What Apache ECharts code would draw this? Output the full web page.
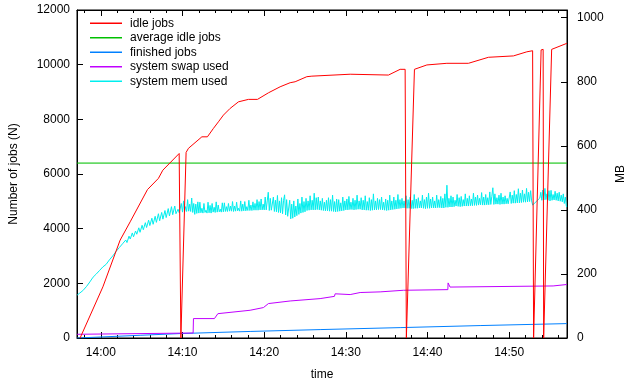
<!DOCTYPE html>
<html><head><meta charset="utf-8">
<script src="https://cdn.jsdelivr.net/npm/echarts@6/dist/echarts.min.js"></script>
<style>html,body{margin:0;padding:0;background:#fff}#c{width:626px;height:383px}</style>
</head><body><div id="c"></div>
<script>
// x values: minutes relative to 14:00
const X_MIN = -2.92, X_MAX = 57.08;
const xMajor = [0, 10, 20, 30, 40, 50];
const xTickLabels = ['14:00', '14:10', '14:20', '14:30', '14:40', '14:50'];
const xMinor = [-2, 2, 4, 6, 8, 12, 14, 16, 18, 22, 24, 26, 28, 32, 34, 36, 38, 42, 44, 46, 48, 52, 54, 56];
const yLeftTicks = [0, 2000, 4000, 6000, 8000, 10000, 12000];
const yRightTicks = [0, 200, 400, 600, 800, 1000];

const idleT = [-2.54, 0.25, 2.36, 3.59, 5.71, 7.05, 7.59, 9.59, 9.8, 10.44, 10.73, 12.37, 13.05, 13.79, 14.40, 15.01, 15.83, 16.85, 18.07, 19.18, 20.52, 21.95, 23.18, 23.79, 25.22, 25.84, 30.53, 35.22, 36.65, 37.26, 37.41, 38.40, 39.92, 42.37, 45.01, 47.46, 50.52, 52.16, 52.87, 52.99, 53.91, 54.16, 54.22, 55.20, 57.06];
const idleV = [0, 1870, 3580, 4250, 5430, 5840, 6140, 6750, 0, 6790, 6940, 7360, 7360, 7670, 7910, 8155, 8400, 8640, 8730, 8730, 8970, 9190, 9340, 9375, 9560, 9580, 9650, 9620, 9830, 9830, 0, 9830, 9990, 10050, 10050, 10270, 10320, 10470, 10510, 0, 10540, 10560, 0, 10560, 10780];

const avgT = [X_MIN, X_MAX];
const avgV = [6400, 6400];

const finT = [-2.9, -0.09, 4.81, 9.71, 18.28, 26.85, 36.65, 46.44, 57.06];
const finV = [0, 36, 99, 162, 240, 308, 380, 455, 527];

const swapT = [-2.9, 11.30, 11.34, 13.91, 14.33, 18.28, 19.91, 20.52, 23.18, 23.26, 26.85, 28.60, 28.69, 28.80, 30.53, 31.75, 34.2, 34.28, 37.05, 42.49, 42.52, 42.76, 55.38, 55.44, 57.06];
const swapV = [11.6, 15.6, 60.6, 60.6, 76, 86.6, 95, 107.5, 115.6, 121, 123, 130, 138, 132, 135.6, 142, 144, 147, 149, 151, 172, 159, 162.5, 167, 167];

// system mem used, start (rising part)
const memAT = [-2.9, -2.6, -2.45, -2.2, -2.0, -1.75, -1.6, -1.35, -1.2, -0.95, -0.8, -0.55, -0.4, -0.15, 0.0, 0.25, 0.4, 0.65, 0.8, 1.05, 1.2, 1.45, 1.6, 1.85, 2.0, 2.25, 2.4, 2.65, 2.8, 3.05, 3.2, 3.45, 3.6, 3.85, 4.0, 4.25, 4.4, 4.65, 4.8, 5.05, 5.2, 5.45, 5.6, 5.85, 6.0, 6.25, 6.4, 6.65, 6.8, 7.05, 7.2, 7.45, 7.6, 7.85, 8.0, 8.25, 8.4, 8.65, 8.8, 9.05, 9.2, 9.45, 9.6, 9.85];
const memAV = [134, 140, 139, 148, 150, 161, 163, 175, 178, 190, 188, 200, 199, 211, 208, 222, 218, 230, 228, 244, 240, 256, 252, 270, 264, 282, 276, 294, 288, 306, 298, 318, 309, 328, 316, 334, 324, 344, 330, 352, 338, 360, 345, 368, 351, 374, 355, 380, 361, 388, 366, 392, 371, 398, 376, 404, 381, 410, 385, 412, 388, 402, 391, 420];

// system mem used, noisy plateau
const memBT = [
  10, 10.125, 10.25, 10.375, 10.5, 10.625, 10.75, 10.875,
  11, 11.125, 11.25, 11.375, 11.5, 11.625, 11.75, 11.875,
  12, 12.125, 12.25, 12.375, 12.5, 12.625, 12.75, 12.875,
  13, 13.125, 13.25, 13.375, 13.5, 13.625, 13.75, 13.875,
  14, 14.125, 14.25, 14.375, 14.5, 14.625, 14.75, 14.875,
  15, 15.125, 15.25, 15.375, 15.5, 15.625, 15.75, 15.875,
  16, 16.125, 16.25, 16.375, 16.5, 16.625, 16.75, 16.875,
  17, 17.125, 17.25, 17.375, 17.5, 17.625, 17.75, 17.875,
  18, 18.125, 18.25, 18.375, 18.5, 18.625, 18.75, 18.875,
  19, 19.125, 19.25, 19.375, 19.5, 19.625, 19.75, 19.875,
  20, 20.125, 20.25, 20.375, 20.5, 20.625, 20.75, 20.875,
  21, 21.125, 21.25, 21.375, 21.5, 21.625, 21.75, 21.875,
  22, 22.125, 22.25, 22.375, 22.5, 22.625, 22.75, 22.875,
  23, 23.125, 23.25, 23.375, 23.5, 23.625, 23.75, 23.875,
  24, 24.125, 24.25, 24.375, 24.5, 24.625, 24.75, 24.875,
  25, 25.125, 25.25, 25.375, 25.5, 25.625, 25.75, 25.875,
  26, 26.125, 26.25, 26.375, 26.5, 26.625, 26.75, 26.875,
  27, 27.125, 27.25, 27.375, 27.5, 27.625, 27.75, 27.875,
  28, 28.125, 28.25, 28.375, 28.5, 28.625, 28.75, 28.875,
  29, 29.125, 29.25, 29.375, 29.5, 29.625, 29.75, 29.875,
  30, 30.125, 30.25, 30.375, 30.5, 30.625, 30.75, 30.875,
  31, 31.125, 31.25, 31.375, 31.5, 31.625, 31.75, 31.875,
  32, 32.125, 32.25, 32.375, 32.5, 32.625, 32.75, 32.875,
  33, 33.125, 33.25, 33.375, 33.5, 33.625, 33.75, 33.875,
  34, 34.125, 34.25, 34.375, 34.5, 34.625, 34.75, 34.875,
  35, 35.125, 35.25, 35.375, 35.5, 35.625, 35.75, 35.875,
  36, 36.125, 36.25, 36.375, 36.5, 36.625, 36.75, 36.875,
  37, 37.125, 37.25, 37.375, 37.5, 37.625, 37.75, 37.875,
  38, 38.125, 38.25, 38.375, 38.5, 38.625, 38.75, 38.875,
  39, 39.125, 39.25, 39.375, 39.5, 39.625, 39.75, 39.875,
  40, 40.125, 40.25, 40.375, 40.5, 40.625, 40.75, 40.875,
  41, 41.125, 41.25, 41.375, 41.5, 41.625, 41.75, 41.875,
  42, 42.125, 42.25, 42.375, 42.5, 42.625, 42.75, 42.875,
  43, 43.125, 43.25, 43.375, 43.5, 43.625, 43.75, 43.875,
  44, 44.125, 44.25, 44.375, 44.5, 44.625, 44.75, 44.875,
  45, 45.125, 45.25, 45.375, 45.5, 45.625, 45.75, 45.875,
  46, 46.125, 46.25, 46.375, 46.5, 46.625, 46.75, 46.875,
  47, 47.125, 47.25, 47.375, 47.5, 47.625, 47.75, 47.875,
  48, 48.125, 48.25, 48.375, 48.5, 48.625, 48.75, 48.875,
  49, 49.125, 49.25, 49.375, 49.5, 49.625, 49.75, 49.875,
  50, 50.125, 50.25, 50.375, 50.5, 50.625, 50.75, 50.875,
  51, 51.125, 51.25, 51.375, 51.5, 51.625, 51.75, 51.875,
  52, 52.125, 52.25, 52.375, 52.5, 52.625, 52.75, 52.875,
  53.75, 53.875,
  54, 54.125, 54.25, 54.375, 54.5, 54.625, 54.75, 54.875,
  55, 55.125, 55.25, 55.375, 55.5, 55.625, 55.75, 55.875,
  56, 56.125, 56.25, 56.375, 56.5, 56.625, 56.75, 56.875,
  57, 57.06];
const memBV = [
  393, 428, 394, 410, 395, 432, 396, 418,
  395, 437, 392, 420, 386, 418, 389, 425,
  390, 424, 391, 405, 390, 420, 392, 399,
  390, 424, 391, 414, 390, 420, 393, 408,
  392, 425, 393, 415, 394, 402, 393, 422,
  394, 422, 395, 410, 395, 420, 396, 412,
  396, 426, 395, 412, 396, 424, 397, 405,
  396, 428, 396, 418, 397, 426, 397, 410,
  398, 430, 398, 415, 398, 425, 399, 420,
  399, 432, 399, 426, 400, 434, 400, 418,
  400, 440, 400, 428, 455, 398, 436, 399,
  396, 440, 395, 430, 394, 445, 392, 428,
  391, 438, 388, 430, 447, 384, 432, 380,
  378, 430, 372, 418, 374, 428, 378, 412,
  382, 434, 386, 420, 390, 440, 392, 426,
  394, 436, 398, 428, 399, 444, 400, 430,
  400, 452, 400, 438, 401, 440, 400, 428,
  399, 436, 398, 424, 397, 430, 397, 438,
  396, 432, 396, 446, 395, 426, 394, 434,
  395, 432, 396, 422, 397, 440, 398, 428,
  400, 434, 400, 442, 401, 424, 401, 436,
  400, 430, 401, 446, 402, 428, 402, 438,
  400, 430, 400, 444, 399, 426, 399, 438,
  398, 432, 399, 450, 400, 428, 400, 436,
  401, 432, 401, 440, 400, 424, 399, 434,
  398, 430, 399, 446, 400, 428, 401, 440,
  402, 430, 403, 448, 404, 432, 405, 436,
  406, 428, 406, 444, 405, 432, 405, 440,
  404, 430, 404, 448, 405, 434, 405, 438,
  406, 428, 406, 446, 405, 432, 404, 440,
  405, 452, 405, 434, 406, 440, 406, 428,
  406, 446, 407, 432, 407, 442, 406, 436,
  406, 450, 408, 477, 408, 436, 409, 444,
  409, 440, 410, 430, 412, 448, 411, 438,
  410, 442, 411, 432, 412, 450, 412, 436,
  412, 444, 413, 434, 413, 452, 414, 440,
  414, 446, 415, 436, 416, 454, 415, 440,
  415, 448, 416, 438, 416, 456, 417, 442,
  469, 417, 450, 418, 438, 418, 446, 417,
  452, 418, 440, 418, 444, 419, 436, 419,
  420, 456, 420, 446, 421, 460, 421, 448,
  422, 466, 422, 452, 423, 462, 424, 450,
  424, 467, 425, 455, 426, 460, 428, 415,
  437, 455,
  430, 462, 431, 467, 432, 450, 430, 460,
  428, 461, 430, 448, 431, 458, 430, 452,
  428, 455, 427, 446, 425, 450, 420, 440,
  412, 409];

function zip(t, v) { return t.map((x, i) => [x, v[i]]); }

const FONT = 'Liberation Sans, Arial, Helvetica, sans-serif';
const txt = { fontFamily: FONT, fontSize: 12, color: '#000' };

const chart = echarts.init(document.getElementById('c'), null, { renderer: 'canvas' });
const gridPos = { left: 77, top: 10, right: 59, bottom: 45, containLabel: false, outerBoundsMode: 'none' };

function xAx(grid, pos, ticks, len, extra) {
  return Object.assign({
    type: 'value', gridIndex: grid, position: pos, min: X_MIN, max: X_MAX,
    axisLine: { show: true, onZero: false, lineStyle: { color: '#000', width: 1 } },
    axisTick: { show: true, inside: true, length: len, customValues: ticks, lineStyle: { color: '#000' } },
    axisLabel: { show: false },
    splitLine: { show: false }
  }, extra || {});
}

const option = {
  animation: false,
  backgroundColor: '#fff',
  grid: [
    Object.assign({ show: true, borderColor: '#000', borderWidth: 1, backgroundColor: 'transparent' }, gridPos),
    Object.assign({ show: false }, gridPos)
  ],
  legend: {
    orient: 'vertical', left: 90, top: 16, padding: 0, itemGap: 0,
    itemWidth: 32, itemHeight: 1.5, icon: 'rect',
    textStyle: Object.assign({ lineHeight: 14.5, padding: [0, 0, 0, 3] }, txt),
    data: ['idle jobs', 'average idle jobs', 'finished jobs', 'system swap used', 'system mem used']
  },
  xAxis: [
    xAx(0, 'bottom', xMajor, 6, {
      axisLabel: { show: true, customValues: xMajor, margin: 9,
        formatter: v => xTickLabels[xMajor.indexOf(v)] || '', fontFamily: FONT, fontSize: 12, color: '#000' },
      name: 'time', nameLocation: 'middle', nameGap: 31, nameTextStyle: txt
    }),
    xAx(0, 'top', xMajor, 6),
    xAx(1, 'bottom', xMinor, 3, { axisLine: { show: false } }),
    xAx(1, 'top', xMinor, 3, { axisLine: { show: false } })
  ],
  yAxis: [
    {
      type: 'value', gridIndex: 0, position: 'left', min: 0, max: 12000,
      axisLine: { show: true, onZero: false, lineStyle: { color: '#000' } },
      axisTick: { show: true, inside: true, length: 6, customValues: yLeftTicks, lineStyle: { color: '#000' } },
      axisLabel: { customValues: yLeftTicks, margin: 7, formatter: v => String(v), fontFamily: FONT, fontSize: 12, color: '#000' },
      splitLine: { show: false },
      name: 'Number of jobs (N)', nameLocation: 'middle', nameGap: 57, nameRotate: 90, nameTextStyle: txt
    },
    {
      type: 'value', gridIndex: 0, position: 'right', min: 0, max: 1024,
      axisLine: { show: true, onZero: false, lineStyle: { color: '#000' } },
      axisTick: { show: true, inside: true, length: 6, customValues: yRightTicks, lineStyle: { color: '#000' } },
      axisLabel: { customValues: yRightTicks, margin: 10, formatter: v => String(v), fontFamily: FONT, fontSize: 12, color: '#000' },
      splitLine: { show: false },
      name: 'MB', nameLocation: 'middle', nameGap: 46, nameRotate: 90, nameTextStyle: txt
    },
    { type: 'value', gridIndex: 1, show: false, min: 0, max: 1 }
  ],
  series: [
    { name: 'idle jobs', type: 'line', xAxisIndex: 0, yAxisIndex: 0, z: 6, data: zip(idleT, idleV),
      showSymbol: false, symbol: 'none', color: '#ff0000', lineStyle: { color: '#ff0000', width: 1 } },
    { name: 'average idle jobs', type: 'line', xAxisIndex: 0, yAxisIndex: 0, z: 3, data: zip(avgT, avgV),
      showSymbol: false, symbol: 'none', color: '#00c000', lineStyle: { color: '#00c000', width: 1.8, opacity: 0.6 } },
    { name: 'finished jobs', type: 'line', xAxisIndex: 0, yAxisIndex: 0, z: 4, data: zip(finT, finV),
      showSymbol: false, symbol: 'none', color: '#0080ff', lineStyle: { color: '#0080ff', width: 1 } },
    { name: 'system swap used', type: 'line', xAxisIndex: 0, yAxisIndex: 1, z: 4, data: zip(swapT, swapV),
      showSymbol: false, symbol: 'none', color: '#c000ff', lineStyle: { color: '#c000ff', width: 1 } },
    { name: 'system mem used', type: 'line', xAxisIndex: 0, yAxisIndex: 1, z: 3,
      data: zip(memAT, memAV).concat(zip(memBT, memBV)),
      showSymbol: false, symbol: 'none', color: '#00eeee', lineStyle: { color: '#00eeee', width: 1 } }
  ]
};
chart.setOption(option);
</script>
</body></html>
